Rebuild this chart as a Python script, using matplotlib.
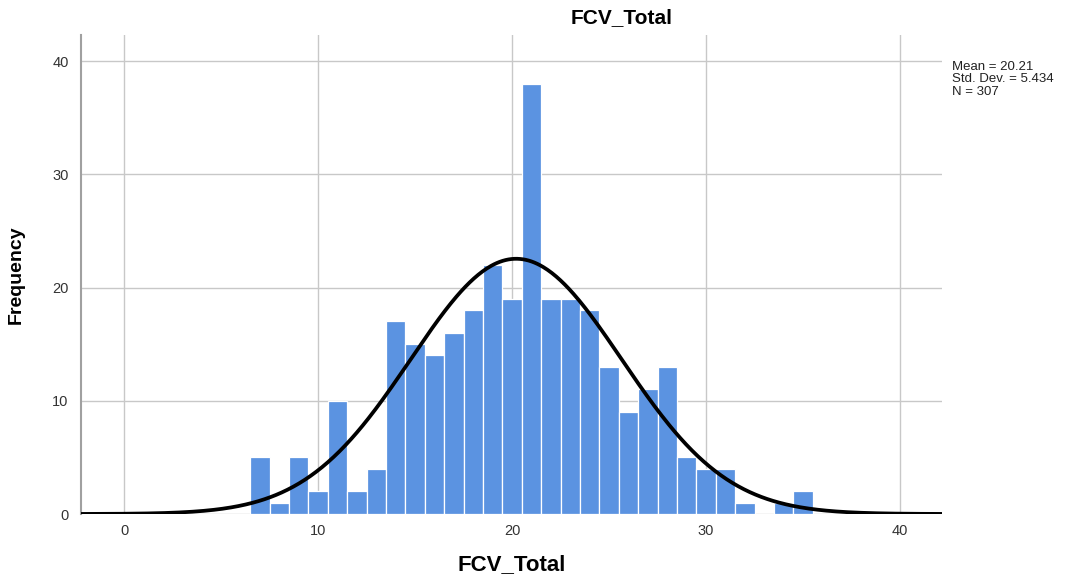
import numpy as np
import matplotlib.pyplot as plt

plt.rcParams['font.family'] = ['Liberation Sans', 'DejaVu Sans']

# histogram of FCV_Total, bin width 1, bins centred on whole numbers
bin_centers = list(range(7, 36))
counts = [5, 1, 5, 2, 10, 2, 4, 17, 15, 14, 16, 18, 22, 19, 38,
          19, 19, 18, 13, 9, 11, 13, 5, 4, 4, 1, 0, 1, 2]

mean = 20.21
std_dev = 5.434
n = 307

fig = plt.figure(figsize=(10.81, 5.76), dpi=100)
ax = fig.add_axes([81 / 1081, 1 - 514 / 576, (942 - 81) / 1081, (514 - 35) / 576])

ax.bar(bin_centers, counts, width=1.0, color='#5b93e1', edgecolor='white',
       linewidth=0.9, zorder=2)

# normal curve scaled to counts (bin width 1)
xs = np.linspace(-2.3, 42.3, 600)
ys = n / (std_dev * np.sqrt(2 * np.pi)) * np.exp(-0.5 * ((xs - mean) / std_dev) ** 2)
ax.plot(xs, ys, color='black', linewidth=2.7, zorder=3, solid_capstyle='butt')

ax.set_xlim(-2.22, 42.16)
ax.set_ylim(0, 42.3)
ax.set_xticks([0, 10, 20, 30, 40])
ax.set_yticks([0, 10, 20, 30, 40])
ax.grid(True, color='#c8c8c8', linewidth=1.0)
ax.set_axisbelow(True)

for side in ['top', 'right', 'bottom']:
    ax.spines[side].set_visible(False)
ax.spines['left'].set_color('#a0a0a0')
ax.spines['left'].set_linewidth(1.5)

ax.tick_params(axis='both', length=0, labelsize=10.5, labelcolor='#333333')
ax.tick_params(axis='y', pad=9)
ax.tick_params(axis='x', pad=7)

ax.set_xlabel('FCV_Total', fontsize=16, fontweight='bold', labelpad=12)
ax.set_ylabel('Frequency', fontsize=14, fontweight='bold', labelpad=20)

fig.text(622 / 1081, 1 - 18 / 576, 'FCV_Total', fontsize=15, fontweight='bold',
         ha='center', va='center')

fig.text(952 / 1081, 1 - 61 / 576,
         f'Mean = {mean:.2f}\nStd. Dev. = {std_dev:.3f}\nN = {n}',
         fontsize=9.5, ha='left', va='top', linespacing=1.05, color='#222222')

fig.savefig('out.png', dpi=100)
